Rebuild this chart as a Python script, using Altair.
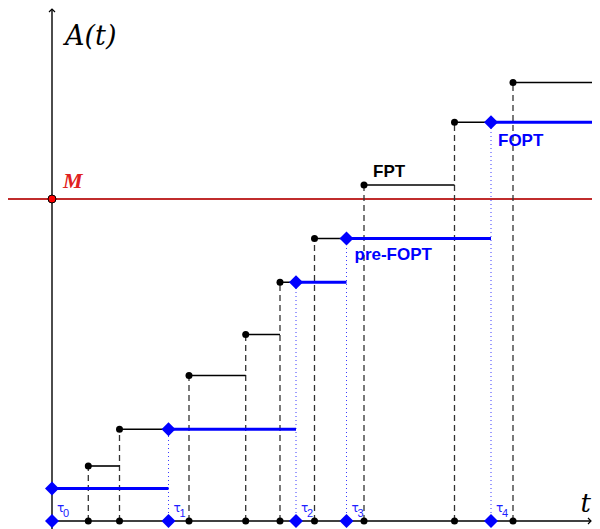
import altair as alt
import pandas as pd

# ---- data ----
event_t = [3.63, 6.75, 13.7, 19.37, 22.8, 26.25, 31.2, 40.25, 46.1]
event_a = [5.5, 9.17, 14.55, 18.65, 23.87, 28.25, 33.6, 39.87, 43.85]
tau_t = [0.0, 11.65, 24.4, 29.45, 43.9]
tau_a = [3.25, 9.17, 23.87, 28.25, 39.87]
tau_digits = ["0", "1", "2", "3", "4"]
threshold_M = 32.2
t_min, t_max = -4.4, 54.0
a_min, a_max = -0.8, 51.3

W, H = 584, 521
xs = alt.Scale(domain=[t_min, t_max], nice=False, zero=False)
ys = alt.Scale(domain=[a_min, a_max], nice=False, zero=False)
X = lambda f: alt.X(f, type="quantitative", scale=xs, axis=None)
Y = lambda f: alt.Y(f, type="quantitative", scale=ys, axis=None)

events = pd.DataFrame({
    "t": event_t, "a": event_a,
    "t_next": event_t[1:] + [t_max], "zero": 0.0,
})
taus = pd.DataFrame({
    "t": tau_t, "a": tau_a, "digit": tau_digits, "tau": ["τ"] * len(tau_t),
    "t_next": tau_t[1:] + [t_max], "zero": 0.0,
})

# threshold line
m_line = alt.Chart(pd.DataFrame({"t0": [t_min], "t1": [t_max], "a": [threshold_M]})).mark_rule(
    color="#c02c2c", strokeWidth=2
).encode(x=X("t0"), x2="t1", y=Y("a"))

dashed = alt.Chart(events).mark_rule(color="#333333", strokeWidth=1.3, strokeDash=[6, 4]).encode(
    x=X("t"), y=Y("zero"), y2="a")

dotted = alt.Chart(taus.iloc[1:]).mark_rule(color="#3a3aff", strokeWidth=1, strokeDash=[1, 3]).encode(
    x=X("t"), y=Y("zero"), y2="a")

steps = alt.Chart(events).mark_rule(color="black", strokeWidth=1.6).encode(
    x=X("t"), x2="t_next", y=Y("a"))

blue = alt.Chart(taus).mark_rule(color="#0000ff", strokeWidth=3).encode(
    x=X("t"), x2="t_next", y=Y("a"))

# axes
yaxis = alt.Chart(pd.DataFrame({"t": [0.0], "a0": [a_min], "a1": [a_max - 0.1]})).mark_rule(
    color="black", strokeWidth=1.4).encode(x=X("t"), y=Y("a0"), y2="a1")
xaxis = alt.Chart(pd.DataFrame({"t0": [0.0], "t1": [t_max - 0.1], "a": [0.0]})).mark_rule(
    color="black", strokeWidth=1.4).encode(x=X("t0"), x2="t1", y=Y("a"))
yarrow = alt.Chart(pd.DataFrame({"t": [0.0], "a": [a_max - 0.1]})).mark_point(
    shape="M-1,1L0,0L1,1", filled=False, color="black", strokeWidth=1.2, size=36, opacity=1
).encode(x=X("t"), y=Y("a"))
xarrow = alt.Chart(pd.DataFrame({"t": [t_max - 0.1], "a": [0.0]})).mark_point(
    shape="M-1,-1L0,0L-1,1", filled=False, color="black", strokeWidth=1.2, size=36, opacity=1
).encode(x=X("t"), y=Y("a"))

ev_pts = alt.Chart(events).mark_circle(color="black", size=49, opacity=1).encode(x=X("t"), y=Y("a"))
ev_axis = alt.Chart(events).mark_circle(color="black", size=49, opacity=1).encode(x=X("t"), y=Y("zero"))

dia = alt.Chart(taus).mark_point(shape="diamond", filled=True, color="#0000ff", size=196, opacity=1).encode(
    x=X("t"), y=Y("a"))
dia_axis = alt.Chart(taus).mark_point(shape="diamond", filled=True, color="#0000ff", size=196, opacity=1).encode(
    x=X("t"), y=Y("zero"))

m_pt = alt.Chart(pd.DataFrame({"t": [0.0], "a": [threshold_M]})).mark_point(
    shape="circle", filled=True, fill="#ff0000", stroke="black", strokeWidth=1, size=64, opacity=1
).encode(x=X("t"), y=Y("a"))

tau_sym = alt.Chart(taus).mark_text(
    align="left", baseline="alphabetic", dx=5, dy=-9, font="DejaVu Sans", fontSize=12, color="#2020ff"
).encode(x=X("t"), y=Y("zero"), text="tau:N")
tau_sub = alt.Chart(taus).mark_text(
    align="left", baseline="alphabetic", dx=11, dy=-4, font="Liberation Sans", fontSize=11, color="#2020ff"
).encode(x=X("t"), y=Y("zero"), text="digit:N")

# annotations
ann_serif = pd.DataFrame({"t": [0.0, t_max], "a": [a_max, 0.0], "txt": ["A(t)", "t"]})
a_label = alt.Chart(ann_serif.iloc[[0]]).mark_text(
    align="left", baseline="alphabetic", dx=13, dy=37, font="DejaVu Serif", fontStyle="italic",
    fontSize=27, color="black").encode(x=X("t"), y=Y("a"), text="txt:N")
t_label = alt.Chart(ann_serif.iloc[[1]]).mark_text(
    align="right", baseline="alphabetic", dx=-1, dy=-9, font="DejaVu Serif", fontStyle="italic",
    fontSize=26, color="black").encode(x=X("t"), y=Y("a"), text="txt:N")

m_label = alt.Chart(pd.DataFrame({"t": [0.0], "a": [threshold_M], "txt": ["M"]})).mark_text(
    align="left", baseline="alphabetic", dx=11, dy=-11, font="Liberation Serif", fontStyle="italic",
    fontWeight="bold", fontSize=22, color="#e02020").encode(x=X("t"), y=Y("a"), text="txt:N")

fpt = alt.Chart(pd.DataFrame({"t": [event_t[6]], "a": [event_a[6]], "txt": ["FPT"]})).mark_text(
    align="left", baseline="alphabetic", dx=9, dy=-8, font="Liberation Sans", fontWeight="bold",
    fontSize=17, color="black").encode(x=X("t"), y=Y("a"), text="txt:N")
prefopt = alt.Chart(pd.DataFrame({"t": [tau_t[3]], "a": [tau_a[3]], "txt": ["pre-FOPT"]})).mark_text(
    align="left", baseline="alphabetic", dx=8, dy=21, font="Liberation Sans", fontWeight="bold",
    fontSize=17, color="#0000ff").encode(x=X("t"), y=Y("a"), text="txt:N")
fopt = alt.Chart(pd.DataFrame({"t": [tau_t[4]], "a": [tau_a[4]], "txt": ["FOPT"]})).mark_text(
    align="left", baseline="alphabetic", dx=7, dy=24, font="Liberation Sans", fontWeight="bold",
    fontSize=17, color="#0000ff").encode(x=X("t"), y=Y("a"), text="txt:N")

chart = alt.layer(
    m_line, dashed, dotted, steps, blue, yaxis, xaxis, yarrow, xarrow,
    ev_pts, ev_axis, dia, dia_axis, m_pt, tau_sym, tau_sub, a_label, t_label, m_label, fpt, prefopt, fopt
).properties(
    width=W, height=H, autosize=alt.AutoSizeParams(type="none"), padding=0
).configure_view(stroke=None)

chart.save("out.html", embed_options={"renderer": "svg", "actions": False})
